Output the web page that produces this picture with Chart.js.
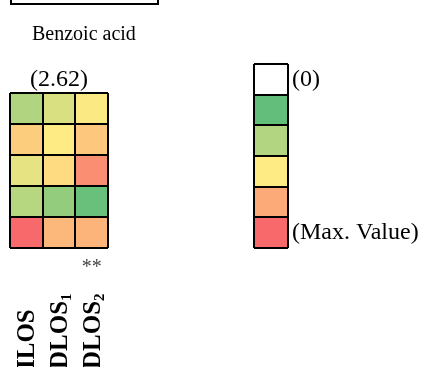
<!DOCTYPE html>
<html>
<head>
<meta charset="utf-8">
<title>Benzoic acid</title>
<script src="https://cdn.jsdelivr.net/npm/chart.js@4.4.1/dist/chart.umd.min.js"></script>
<style>
    html, body { margin: 0; padding: 0; background: #fff; }
    #wrap { position: relative; width: 427px; height: 367px; overflow: hidden; }
    canvas { position: absolute; left: 0; top: 0; }
</style>
</head>
<body>
<div id="wrap">
    <canvas id="heatmap" width="427" height="367"></canvas>
    <canvas id="scaleKey" width="427" height="367"></canvas>
</div>
<script>
/* ---------------- Data ---------------- */
const compound = "Benzoic acid";
const columns = ["ILOS", "DLOS1", "DLOS2"];
const marks = ["", "", "**"];
const maxValue = 2.62;

// rows listed top to bottom
const row1 = [0.65, 0.98, 1.28];
const row2 = [1.61, 1.31, 1.66];
const row3 = [1.09, 1.48, 2.25];
const row4 = [0.70, 0.41, 0.05];
const row5 = [2.62, 1.82, 1.86];
const cellValues = [row1, row2, row3, row4, row5];

// key steps as share of the max value, null = empty cell
const keySteps = [null, 0, 0.25, 0.5, 0.75, 1];
const keyLabels = ["(0)", "", "", "", "", "(Max. Value)"];

/* ---------------- Colour scale ---------------- */
const LOW = [99, 190, 123];
const MID = [255, 235, 132];
const HIGH = [248, 105, 107];

function mix(a, b, t) {
    return a.map((v, i) => Math.round(v + (b[i] - v) * t));
}

function colorFor(t) {
    if (t === null) return "#ffffff";
    t = Math.max(0, Math.min(1, t));
    const c = t < 0.5 ? mix(LOW, MID, t * 2) : mix(MID, HIGH, (t - 0.5) * 2);
    return `rgb(${c[0]},${c[1]},${c[2]})`;
}

const SERIF = "'Liberation Serif', 'Times New Roman', serif";

/* ---------------- Shared grid setup ---------------- */
function gridScales(rows) {
    const line = { color: "#000", lineWidth: 2, drawTicks: false, z: 1 };
    return {
        x: {
            stacked: true,
            offset: true,
            grid: { ...line, offset: true },
            ticks: { display: false },
            border: { display: false }
        },
        y: {
            stacked: true,
            reverse: true,
            min: 0,
            max: rows,
            grid: line,
            ticks: { display: false, stepSize: 1 },
            border: { display: false }
        }
    };
}

const baseOptions = {
    responsive: false,
    animation: false,
    events: [],
    plugins: { legend: { display: false }, tooltip: { enabled: false } }
};

/* ---------------- Heatmap ---------------- */
const heatmapText = {
    id: "heatmapText",
    afterDraw(chart) {
        const { ctx, chartArea, scales } = chart;
        const midX = (chartArea.left + chartArea.right) / 2;
        ctx.save();

        // frame of the panel above
        ctx.strokeStyle = "#000";
        ctx.lineWidth = 2;
        ctx.strokeRect(11, -20, 147, 24);

        ctx.fillStyle = "#000";
        ctx.textAlign = "left";
        ctx.textBaseline = "alphabetic";
        ctx.font = `20px ${SERIF}`;
        ctx.fillText(compound, 32, 40);

        ctx.textAlign = "center";
        ctx.font = `24px ${SERIF}`;
        ctx.fillText(`(${maxValue.toFixed(2)})`, midX, 86);

        // significance marks
        ctx.fillStyle = "#444";
        ctx.font = `20px ${SERIF}`;
        marks.forEach((m, i) => {
            if (m) ctx.fillText(m, scales.x.getPixelForValue(i), chartArea.bottom + 25);
        });

        // column names, rotated, with subscript digits
        ctx.fillStyle = "#000";
        columns.forEach((name, i) => {
            const [, base, sub] = name.match(/^(\D+)(\d*)$/);
            const x = scales.x.getPixelForValue(i) + 8;
            ctx.save();
            ctx.translate(x, 369);
            ctx.rotate(-Math.PI / 2);
            ctx.textAlign = "left";
            ctx.font = `bold 25px ${SERIF}`;
            ctx.fillText(base, 0, 0);
            if (sub) {
                const w = ctx.measureText(base).width;
                ctx.font = `bold 15px ${SERIF}`;
                ctx.fillText(sub, w, 4);
            }
            ctx.restore();
        });
        ctx.restore();
    }
};

new Chart(document.getElementById("heatmap"), {
    type: "bar",
    data: {
        labels: columns,
        datasets: cellValues.map(row => ({
            data: row.map(() => 1),
            backgroundColor: row.map(v => colorFor(v / maxValue)),
            borderWidth: 0,
            categoryPercentage: 1,
            barPercentage: 1
        }))
    },
    options: {
        ...baseOptions,
        layout: { padding: { left: 10, top: 93, right: 319, bottom: 119 } },
        scales: gridScales(cellValues.length)
    },
    plugins: [heatmapText]
});

/* ---------------- Colour key ---------------- */
const keyText = {
    id: "keyText",
    afterDraw(chart) {
        const { ctx, chartArea, scales } = chart;
        ctx.save();
        ctx.fillStyle = "#000";
        ctx.textAlign = "left";
        ctx.textBaseline = "middle";
        ctx.font = `24px ${SERIF}`;
        keyLabels.forEach((label, i) => {
            if (label) ctx.fillText(label, chartArea.right + 4, scales.y.getPixelForValue(i + 0.5));
        });
        ctx.restore();
    }
};

new Chart(document.getElementById("scaleKey"), {
    type: "bar",
    data: {
        labels: [""],
        datasets: keySteps.map(s => ({
            data: [1],
            backgroundColor: colorFor(s),
            borderWidth: 0,
            categoryPercentage: 1,
            barPercentage: 1
        }))
    },
    options: {
        ...baseOptions,
        layout: { padding: { left: 254, top: 64, right: 139, bottom: 119 } },
        scales: gridScales(keySteps.length)
    },
    plugins: [keyText]
});
</script>
</body>
</html>
